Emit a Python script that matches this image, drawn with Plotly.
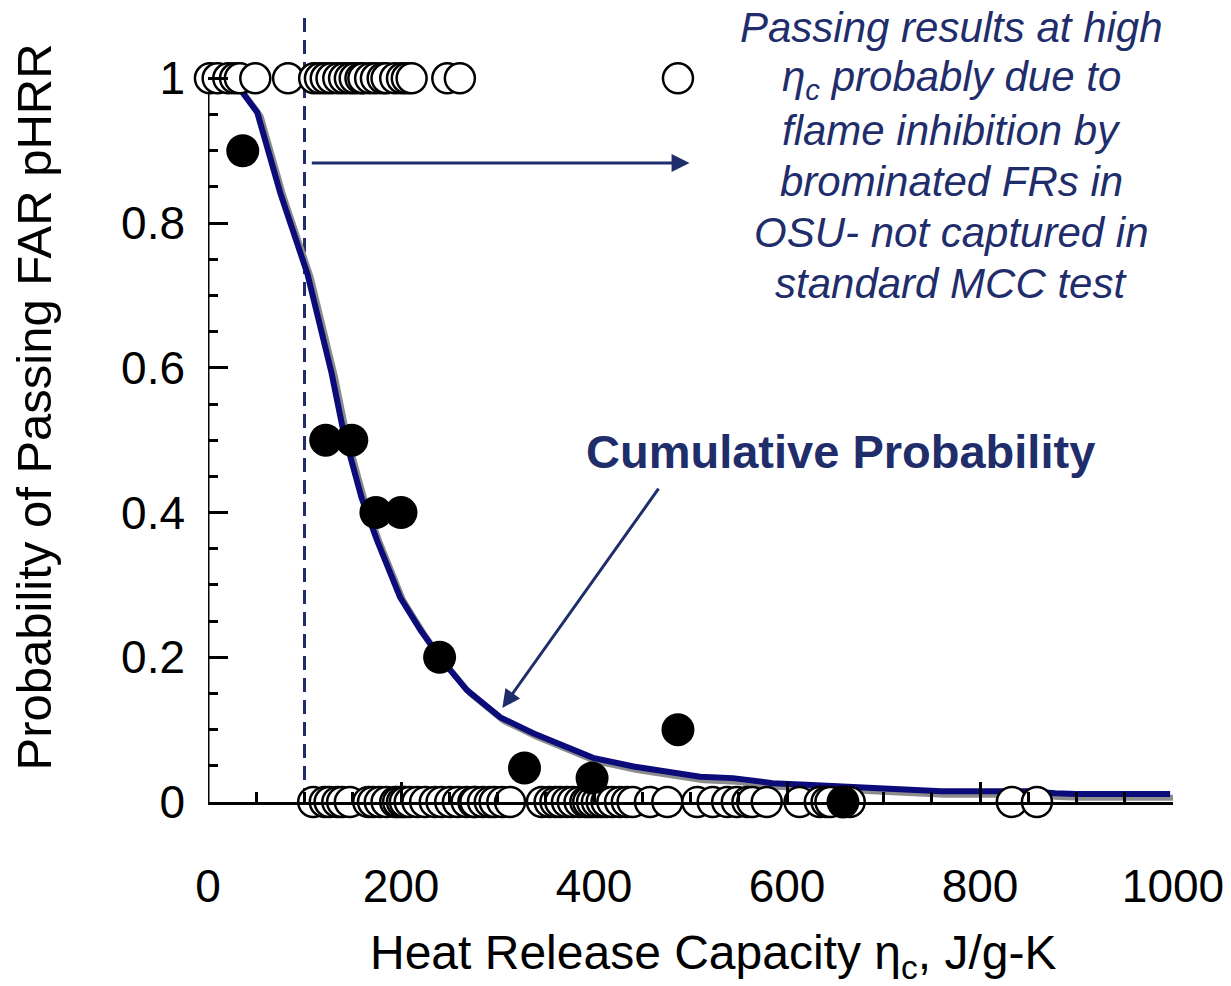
import plotly.graph_objects as go

# ---- data ----
pass_x = [2, 10, 21, 28, 33, 49, 83, 110, 116, 122, 128, 135, 141, 147, 152, 158, 161,
          168, 174, 181, 185, 194, 201, 206, 211, 248, 261, 487]          # open circles at P = 1
fail_x = [109, 121, 126, 134, 139, 147, 166, 171, 178, 185, 194, 197, 201, 204, 209,
          217, 225, 235, 242, 251, 259, 268, 275, 277, 285, 292, 297, 305, 313, 346,
          354, 360, 365, 372, 378, 385, 391, 394, 398, 403, 408, 413, 419, 427, 434,
          440, 458, 476, 507, 523, 538, 548, 559, 564, 579, 613, 634, 641, 645, 665,
          833, 859]                                                           # open circles at P = 0
frac_x = [36, 122, 149, 174, 200, 240, 328, 398, 487, 658]
frac_y = [0.9, 0.5, 0.5, 0.4, 0.4, 0.2, 0.047, 0.033, 0.1, 0.0]
curve_x = [30, 36, 51, 75, 103, 128, 140, 159, 175, 199, 220, 240, 268, 303, 337, 372,
           399, 441, 476, 510, 544, 585, 620, 660, 700, 728, 760, 800, 850, 878, 900, 950, 997]
curve_y = [1.0, 0.98, 0.953, 0.841, 0.73, 0.593, 0.514, 0.421, 0.362, 0.283, 0.238, 0.2,
           0.155, 0.117, 0.095, 0.076, 0.061, 0.049, 0.041, 0.035, 0.033, 0.026, 0.024,
           0.021, 0.02, 0.017, 0.015, 0.015, 0.015, 0.012, 0.011, 0.011, 0.011]
x_ticks = [0, 200, 400, 600, 800, 1000]
y_ticks = [0, 0.2, 0.4, 0.6, 0.8, 1]
y_tick_text = ["0", "0.2", "0.4", "0.6", "0.8", "1"]
note_lines = ["Passing results at high", "η<sub>c</sub> probably due to",
              "flame inhibition by", "brominated FRs in",
              "OSU- not captured in", "standard MCC test"]

NAVY = "#1F2D6B"
LINE = "#0B0B7A"
FONT = "Liberation Sans, Arial, sans-serif"

fig = go.Figure()

# shadow of the curve
fig.add_trace(go.Scatter(x=[v + 3.5 for v in curve_x], y=[v - 0.005 for v in curve_y],
                         mode="lines", line=dict(color="#8C8C8C", width=6),
                         hoverinfo="skip", cliponaxis=False))
fig.add_trace(go.Scatter(x=curve_x, y=curve_y, mode="lines",
                         line=dict(color=LINE, width=6), cliponaxis=False))

fig.add_trace(go.Scatter(x=pass_x, y=[1] * len(pass_x), mode="markers", cliponaxis=False,
                         marker=dict(size=30, color="white",
                                     line=dict(color="black", width=2.5))))
fig.add_trace(go.Scatter(x=fail_x, y=[0] * len(fail_x), mode="markers", cliponaxis=False,
                         marker=dict(size=30, color="white",
                                     line=dict(color="black", width=2.5))))
fig.add_trace(go.Scatter(x=frac_x, y=frac_y, mode="markers", cliponaxis=False,
                         marker=dict(size=33, color="black",
                                     line=dict(color="black", width=0))))

# dashed reference line and y axis line
fig.add_shape(type="line", x0=100, x1=100, y0=0, y1=1.09, xref="x", yref="y",
              line=dict(color=NAVY, width=3, dash="14px,8px"), layer="below")
fig.add_shape(type="line", x0=0, x1=0, y0=0, y1=1, xref="x", yref="y",
              line=dict(color="black", width=3), layer="below")

# annotations
fig.add_annotation(x=499, y=0.883, ax=106, ay=0.883, xref="x", yref="y", axref="x", ayref="y",
                   text="", showarrow=True, arrowhead=2, arrowsize=1.2, arrowwidth=3,
                   arrowcolor=NAVY, standoff=0, startstandoff=0)
fig.add_annotation(x=305, y=0.130, ax=468, ay=0.435, xref="x", yref="y", axref="x", ayref="y",
                   text="", showarrow=True, arrowhead=2, arrowsize=1.2, arrowwidth=3,
                   arrowcolor=NAVY, standoff=0, startstandoff=0)
for i, line in enumerate(note_lines):
    fig.add_annotation(x=0.77, y=0.9724 - i * 0.0643, xref="paper", yref="paper",
                       showarrow=False, xanchor="center", yanchor="middle",
                       text="<i>" + line + "</i>",
                       font=dict(family=FONT, size=42, color=NAVY))
fig.add_annotation(x=655, y=0.484, xref="x", yref="y", showarrow=False,
                   text="<b>Cumulative Probability</b>",
                   font=dict(family=FONT, size=47, color=NAVY))
fig.add_annotation(x=0.523, y=-0.193, xref="paper", yref="paper", showarrow=False,
                   xanchor="center", yanchor="middle",
                   text="Heat Release Capacity η<sub>c</sub>, J/g-K",
                   font=dict(family=FONT, size=48, color="black"))
fig.add_annotation(x=-0.18, y=0.496, xref="paper", yref="paper", showarrow=False,
                   xanchor="center", yanchor="middle", textangle=-90,
                   text="Probability of Passing FAR pHRR",
                   font=dict(family=FONT, size=49, color="black"))

fig.update_layout(
    width=1231, height=986,
    margin=dict(l=208, r=58, t=6, b=184),
    paper_bgcolor="white", plot_bgcolor="white",
    showlegend=False,
    font=dict(family=FONT, size=46, color="black"),
    xaxis=dict(range=[0, 1000], tickvals=x_ticks, ticktext=[str(v) for v in x_ticks],
               showgrid=False, zeroline=False, showline=True, linecolor="black",
               linewidth=3, ticks="inside", ticklen=20, tickwidth=3, tickcolor="black",
               ticklabelstandoff=42,
               minor=dict(tickmode="array",
                          tickvals=[v for v in range(50, 1000, 50) if v % 200],
                          ticks="inside", ticklen=10, tickwidth=3, tickcolor="black",
                          showgrid=False),
               tickfont=dict(family=FONT, size=46)),
    yaxis=dict(range=[0, 1.1], tickvals=y_ticks, ticktext=y_tick_text,
               showgrid=False, zeroline=False, showline=False,
               ticks="inside", ticklen=20, tickwidth=3, tickcolor="black",
               ticklabelstandoff=22,
               minor=dict(tickmode="array",
                          tickvals=[0.05, 0.1, 0.15, 0.25, 0.3, 0.35, 0.45, 0.5, 0.55,
                                    0.65, 0.7, 0.75, 0.85, 0.9, 0.95],
                          ticks="inside", ticklen=10, tickwidth=3, tickcolor="black",
                          showgrid=False),
               tickfont=dict(family=FONT, size=46)),
)

fig.write_html("out.html", config={"displayModeBar": False},
               post_script="document.body.style.margin='0';")
